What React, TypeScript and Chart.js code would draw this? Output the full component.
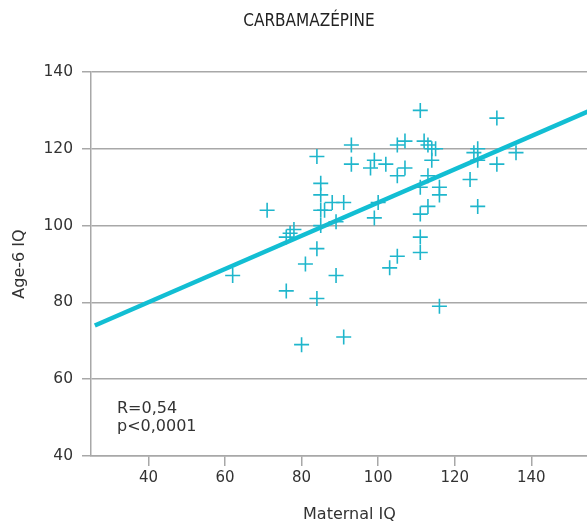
import React, { useEffect, useRef } from "react";
import { Chart, registerables } from "chart.js";

Chart.register(...registerables);

const titleText = "CARBAMAZÉPINE";
const xAxisTitle = "Maternal IQ";
const yAxisTitle = "Age-6 IQ";
const statLines = ["R=0,54", "p<0,0001"];

const xTicks = [40, 60, 80, 100, 120, 140];
const yTicks = [40, 60, 80, 100, 120, 140];

const maternalIQ = [
  62, 71, 76, 76, 77, 78, 80, 81, 84, 85, 85, 85, 86, 88, 85, 84, 84, 89, 91, 89,
  91, 93, 93, 99, 98, 102, 105, 107, 105, 107, 100, 99, 103, 105, 111, 112, 113, 114, 115, 114,
  113, 111, 116, 116, 111, 113, 111, 111, 116, 124, 125, 126, 126, 136, 131, 131, 126,
];
const childIQ = [
  87, 104, 83, 97, 98, 99, 69, 90, 118, 111, 108, 104, 104, 106, 100, 94, 81, 87, 71, 101,
  106, 121, 116, 117, 115, 116, 121, 122, 113, 115, 106, 102, 89, 92, 130, 122, 121, 120, 120, 117,
  113, 110, 110, 108, 103, 105, 97, 93, 79, 112, 119, 120, 117, 119, 116, 128, 105,
];

const fitX = [26, 160];
const fitY = [74, 132];

const TITLE_FONT = "'DejaVu Sans Condensed', 'DejaVu Sans', sans-serif";
const FONT = "'DejaVu Sans', sans-serif";

export default function App() {
  const ref = useRef<HTMLCanvasElement | null>(null);

  useEffect(() => {
    document.body.style.margin = "0";
    const canvas = ref.current;
    if (!canvas) return;

    const textPlugin = {
      id: "texts",
      afterDraw(chart: any) {
        const ctx = chart.ctx;
        const area = chart.chartArea;
        ctx.save();
        ctx.fillStyle = "#222";
        ctx.font = `500 17px ${TITLE_FONT}`;
        ctx.textAlign = "center";
        ctx.textBaseline = "middle";
        ctx.fillText(titleText, 309, 22);
        ctx.fillStyle = "#333";
        ctx.font = `16px ${FONT}`;
        ctx.textAlign = "left";
        ctx.textBaseline = "middle";
        ctx.fillText(statLines[0], area.left + 26, 409);
        ctx.fillText(statLines[1], area.left + 26, 427);
        ctx.restore();
      },
    };

    const chart = new Chart(canvas, {
      type: "scatter",
      data: {
        datasets: [
          {
            type: "line",
            data: fitX.map((x, i) => ({ x, y: fitY[i] })),
            borderColor: "#12bed3",
            borderWidth: 4.5,
            pointRadius: 0,
            fill: false,
            order: 2,
          } as any,
          {
            type: "scatter",
            data: maternalIQ.map((x, i) => ({ x, y: childIQ[i] })),
            pointStyle: "cross",
            pointRadius: 7.5,
            pointBorderWidth: 1.6,
            borderColor: "#1fb6cc",
            backgroundColor: "#1fb6cc",
            order: 1,
          } as any,
        ],
      },
      options: {
        animation: false,
        responsive: false,
        maintainAspectRatio: false,
        layout: { padding: { left: 10, top: 72, right: 0, bottom: 0 } },
        plugins: {
          legend: { display: false },
          tooltip: { enabled: false },
          title: { display: false },
        },
        scales: {
          x: {
            type: "linear",
            min: 25,
            max: 160,
            afterBuildTicks: (scale: any) => {
              scale.ticks = xTicks.map((v) => ({ value: v }));
            },
            afterFit: (scale: any) => {
              scale.height = 74;
            },
            grid: {
              drawOnChartArea: false,
              drawTicks: true,
              tickLength: 10,
              color: "#a8a8a8",
              lineWidth: 1.5,
            },
            border: { color: "#a8a8a8", width: 1.5 },
            ticks: {
              padding: 3,
              color: "#333",
              font: { family: FONT, size: 15 },
              maxRotation: 0,
            },
            title: {
              display: true,
              text: xAxisTitle,
              color: "#333",
              font: { family: FONT, size: 16 },
              padding: { top: 0, bottom: 6 },
            },
          },
          y: {
            type: "linear",
            min: 40,
            max: 140,
            afterBuildTicks: (scale: any) => {
              scale.ticks = yTicks.map((v) => ({ value: v }));
            },
            afterFit: (scale: any) => {
              scale.width = 81;
            },
            grid: {
              drawOnChartArea: true,
              drawTicks: true,
              tickLength: 9,
              color: "#a8a8a8",
              lineWidth: 1.5,
            },
            border: { color: "#a8a8a8", width: 1.5 },
            ticks: {
              padding: 9,
              color: "#333",
              font: { family: FONT, size: 15.5 },
            },
            title: {
              display: true,
              text: yAxisTitle,
              color: "#333",
              font: { family: FONT, size: 16 },
              padding: { top: 0, bottom: 0 },
            },
          },
        },
      },
      plugins: [textPlugin],
    });

    return () => chart.destroy();
  }, []);

  return (
    <div style={{ width: 587, height: 530, overflow: "hidden", position: "relative" }}>
      <canvas ref={ref} width={617} height={530} style={{ width: 617, height: 530, display: "block" }} />
    </div>
  );
}
